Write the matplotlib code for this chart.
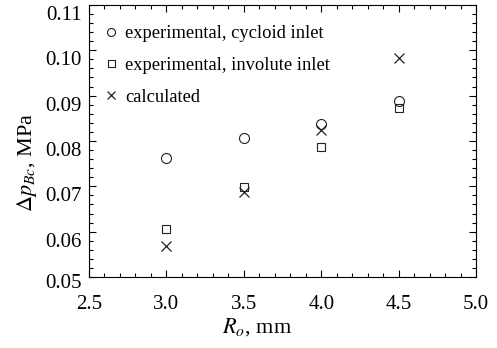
import matplotlib
matplotlib.use('Agg')
import matplotlib.pyplot as plt
import matplotlib.transforms as mtransforms
from matplotlib.ticker import MultipleLocator

plt.rcParams['font.family'] = ['Liberation Serif', 'DejaVu Serif']
plt.rcParams['mathtext.fontset'] = 'stix'

radius = [3.0, 3.5, 4.0, 4.5]
cycloid = [0.0763, 0.0807, 0.0837, 0.0889]
involute = [0.0605, 0.0699, 0.0787, 0.0873]
calculated = [0.0568, 0.0687, 0.0824, 0.0982]

fig = plt.figure(figsize=(4.97, 3.48), dpi=100)
ax = fig.add_axes([0.179, 0.204, 0.779, 0.782])

ax.plot(radius, cycloid, 'o', ms=7.2, mfc='none', mec='#222222', mew=0.8,
        label='experimental, cycloid inlet')
ax.plot(radius, involute, 's', ms=6.3, mfc='none', mec='#222222', mew=0.8,
        label='experimental, involute inlet')
ax.plot(radius, calculated, 'x', ms=6.5, mec='#222222', mew=0.9,
        label='calculated')

ax.set_xlim(2.5, 5.0)
ax.set_ylim(0.05, 0.11)
ax.xaxis.set_major_locator(MultipleLocator(0.5))
ax.xaxis.set_minor_locator(MultipleLocator(0.1))
ax.yaxis.set_major_locator(MultipleLocator(0.01))
ax.yaxis.set_minor_locator(MultipleLocator(0.002))
ax.xaxis.set_major_formatter(plt.FormatStrFormatter('%.1f'))
ax.yaxis.set_major_formatter(plt.FormatStrFormatter('%.2f'))

ax.tick_params(which='both', direction='in', top=True, right=True, labelsize=15, width=0.8)
ax.tick_params(which='major', length=5)
ax.tick_params(which='minor', length=3)
ax.tick_params(axis='x', pad=13)
ax.tick_params(axis='y', pad=5)
fig.canvas.draw()
for lab in ax.get_yticklabels():
    shift = -4 if lab.get_text() == '0.05' else -8
    lab.set_transform(lab.get_transform() + mtransforms.ScaledTranslation(0, shift / 100, fig.dpi_scale_trans))

ax.set_xlabel(r'$R_o$, mm', fontsize=16)
ax.set_ylabel(r'$\Delta p_{Bc}$, MPa', fontsize=16)
ax.xaxis.set_label_coords(0.434, -0.145)
ax.yaxis.set_label_coords(-0.13, 0.42)

ax.legend(loc='upper left', frameon=False, fontsize=13.3, markerscale=0.8,
          handlelength=0.8, handletextpad=0.35, labelspacing=0.8,
          borderaxespad=0.4, bbox_to_anchor=(0.0, 0.98))

fig.savefig('out.png', dpi=100)
